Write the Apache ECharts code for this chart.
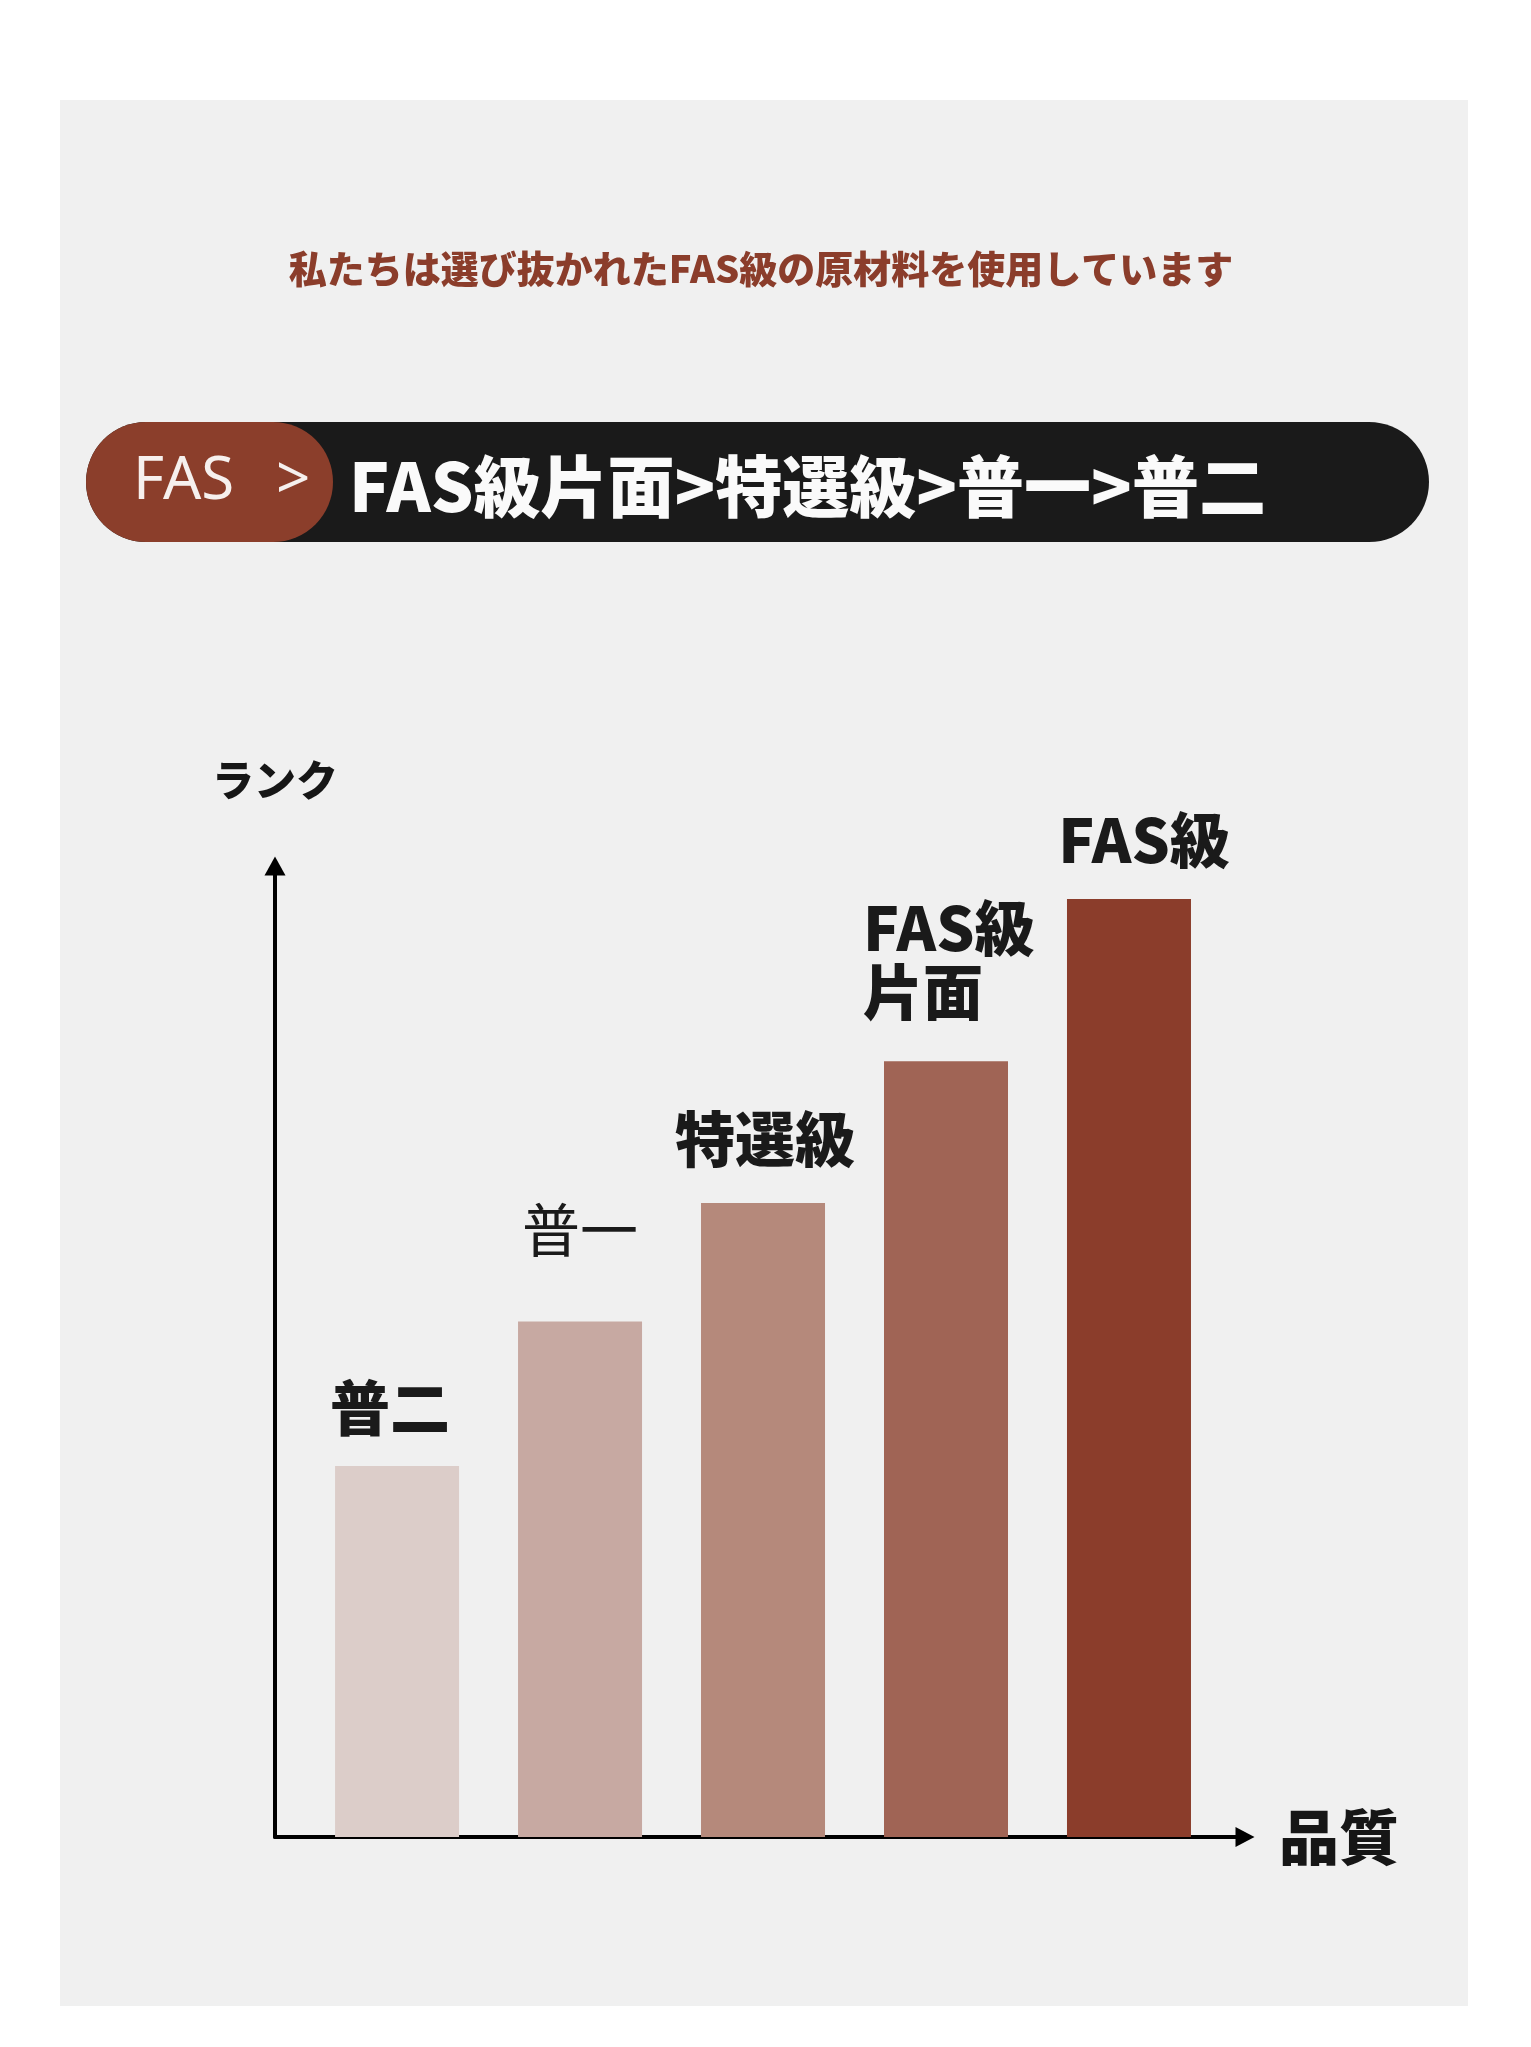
<!DOCTYPE html>
<html>
<head>
<meta charset="utf-8">
<script src="https://cdn.jsdelivr.net/npm/echarts@6/dist/echarts.min.js"></script>
<style>
html, body { margin: 0; padding: 0; background: #fff; }
#main { width: 1531px; height: 2047px; }
</style>
</head>
<body>
<div id="main"></div>
<script>
// grades, lowest to highest
var categories = ['普二', '普一', '特選級', 'FAS級\n片面', 'FAS級'];
// rank (share of the axis height)
var rankValues = [38.2, 53.1, 65.3, 79.9, 96.6];
var barColors = ['#dccdc9', '#c7a9a2', '#b5897b', '#a06455', '#8b3d2b'];

// label placement per bar
var labelTweaks = [
	{ distance: 26, offset: [-7, 0] },
	{ distance: 59, offset: [0, 0], fontWeight: 'normal', fontSize: 58 },
	{ distance: 32, offset: [2, 0] },
	{ distance: 37, offset: [-83, 0], align: 'left' },
	{ distance: 27, offset: [15, 0] }
];

var jpFont = '"Noto Sans CJK JP", "Noto Sans", sans-serif';
var heavy = 900;

var barData = rankValues.map(function (v, i) {
	return {
		value: [i, v],
		itemStyle: { color: barColors[i] },
		label: labelTweaks[i]
	};
});

var myChart = echarts.init(document.getElementById('main'));
myChart.setOption({
	backgroundColor: '#ffffff',
	animation: false,
	grid: {
		left: 275,
		right: 286,
		top: 866,
		bottom: 210,
		outerBoundsMode: 'none'
	},
	xAxis: {
		type: 'value',
		min: -0.667,
		max: 4.634,
		splitLine: { show: false },
		axisTick: { show: false },
		axisLabel: { show: false },
		axisLine: {
			show: true,
			onZero: false,
			symbol: ['none', 'triangle'],
			symbolSize: [20, 19],
			lineStyle: { color: '#000', width: 4 }
		},
		name: '品質',
		nameLocation: 'end',
		nameGap: 34,
		nameTextStyle: {
			fontFamily: jpFont,
			fontSize: 60,
			fontWeight: heavy,
			color: '#161616',
			align: 'left',
			verticalAlign: 'middle'
		}
	},
	yAxis: {
		type: 'value',
		min: 0,
		max: 100,
		splitLine: { show: false },
		axisTick: { show: false },
		axisLabel: { show: false },
		axisLine: {
			show: true,
			onZero: false,
			symbol: ['none', 'triangle'],
			symbolSize: [21, 19],
			lineStyle: { color: '#000', width: 4 }
		},
		name: 'ランク',
		nameLocation: 'end',
		nameGap: 86,
		nameTextStyle: {
			fontFamily: jpFont,
			fontSize: 42,
			fontWeight: heavy,
			color: '#161616',
			align: 'center',
			verticalAlign: 'middle'
		}
	},
	series: [{
		name: 'ランク',
		type: 'bar',
		barWidth: 124,
		data: barData,
		label: {
			show: true,
			position: 'top',
			formatter: function (p) { return categories[p.dataIndex]; },
			fontFamily: jpFont,
			fontSize: 60,
			fontWeight: heavy,
			lineHeight: 64,
			color: '#1a1a1a'
		}
	}],
	graphic: [
		{
			type: 'rect',
			z: -100,
			shape: { x: 60, y: 100, width: 1408, height: 1906 },
			style: { fill: '#f0f0f0' }
		},
		{
			type: 'text',
			x: 761, y: 269,
			style: {
				text: '私たちは選び抜かれたFAS級の原材料を使用しています',
				fontFamily: jpFont, fontSize: 38, fontWeight: heavy,
				fill: '#8b3d2b', align: 'center', verticalAlign: 'middle'
			}
		},
		{
			type: 'rect',
			shape: { x: 86, y: 422, width: 1343, height: 120, r: 60 },
			style: { fill: '#1a1a1a' }
		},
		{
			type: 'rect',
			shape: { x: 86, y: 422, width: 247, height: 120, r: 60 },
			style: { fill: '#8b3e2b' }
		},
		{
			type: 'text',
			x: 133, y: 482,
			style: {
				text: 'FAS',
				fontFamily: '"Noto Sans", sans-serif', fontSize: 60,
				fill: '#f6f0ee', align: 'left', verticalAlign: 'middle'
			}
		},
		{
			type: 'text',
			x: 276, y: 482,
			style: {
				text: '>',
				fontFamily: '"Noto Sans", sans-serif', fontSize: 60,
				fill: '#f6f0ee', align: 'left', verticalAlign: 'middle'
			}
		},
		{
			type: 'text',
			x: 349, y: 487,
			style: {
				text: 'FAS級片面>特選級>普一>普二',
				fontFamily: jpFont, fontSize: 67, fontWeight: heavy,
				fill: '#fafafa', align: 'left', verticalAlign: 'middle'
			}
		}
	]
});
</script>
</body>
</html>
